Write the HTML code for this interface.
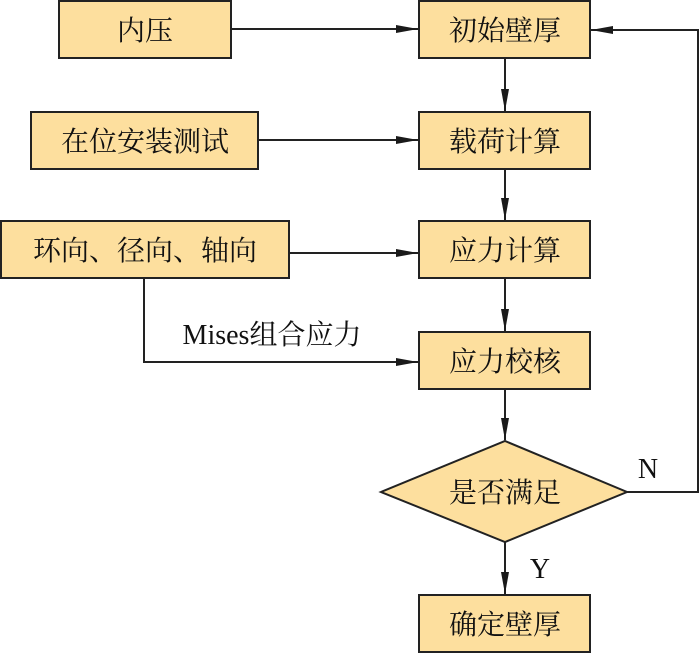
<!DOCTYPE html>
<html><head><meta charset="utf-8"><style>body{margin:0;background:#fff}</style></head><body>
<svg width="700" height="653" viewBox="0 0 700 653" xmlns="http://www.w3.org/2000/svg" font-family="'Liberation Serif','Noto Serif CJK SC','Noto Serif CJK SC',serif" font-size="28">
<defs><marker id="a" markerWidth="22" markerHeight="10" refX="22" refY="5" orient="auto" markerUnits="userSpaceOnUse"><path d="M0,1 L22,5 L0,9 Z" fill="#1a1a1a"/></marker></defs>
<g fill="#FDDF9E" stroke="#222" stroke-width="2">
<rect x="59" y="1" width="172" height="57"/>
<rect x="31" y="112" width="227" height="57"/>
<rect x="1" y="221" width="288" height="57"/>
<rect x="419" y="1" width="171" height="57"/>
<rect x="419" y="112" width="171" height="57"/>
<rect x="419" y="221" width="171" height="57"/>
<rect x="419" y="332" width="171" height="57"/>
<polygon points="381,492 505,441 627,492 505,542"/>
<rect x="419" y="595" width="171" height="57"/>
</g>
<g stroke="#222" stroke-width="2" fill="none">
<line x1="231" y1="29" x2="418" y2="29" marker-end="url(#a)"/>
<line x1="258" y1="140" x2="418" y2="140" marker-end="url(#a)"/>
<line x1="289" y1="253" x2="418" y2="253" marker-end="url(#a)"/>
<polyline points="144,278 144,362 418,362" marker-end="url(#a)"/>
<line x1="505" y1="58" x2="505" y2="111" marker-end="url(#a)"/>
<line x1="505" y1="169" x2="505" y2="220" marker-end="url(#a)"/>
<line x1="505" y1="278" x2="505" y2="331" marker-end="url(#a)"/>
<line x1="505" y1="389" x2="505" y2="440" marker-end="url(#a)"/>
<line x1="505" y1="542" x2="505" y2="594" marker-end="url(#a)"/>
<polyline points="627,492 698,492 698,30 591,30" marker-end="url(#a)"/>
</g>
<g fill="#111" text-anchor="middle">
<text x="145" y="40">内压</text>
<text x="145" y="151">在位安装测试</text>
<text x="145" y="260">环向、径向、轴向</text>
<text x="505" y="40">初始壁厚</text>
<text x="505" y="151">载荷计算</text>
<text x="505" y="260">应力计算</text>
<text x="505" y="371">应力校核</text>
<text x="505" y="502">是否满足</text>
<text x="505" y="634">确定壁厚</text>
<text x="272" y="344">Mises组合应力</text>
<text x="648" y="478">N</text>
<text x="540" y="578">Y</text>
</g>
</svg>
</body></html>
